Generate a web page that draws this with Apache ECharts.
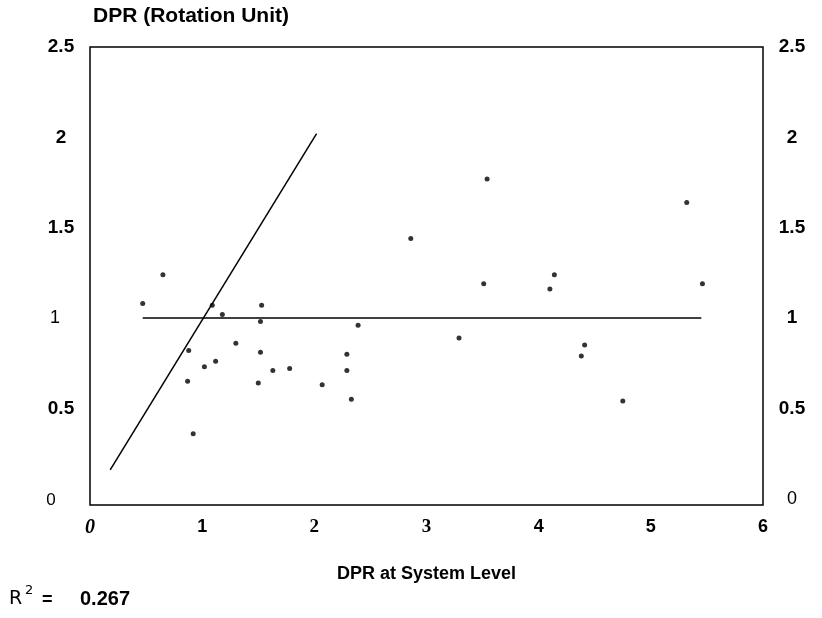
<!DOCTYPE html>
<html>
<head>
<meta charset="utf-8">
<script src="https://cdn.jsdelivr.net/npm/echarts@6/dist/echarts.min.js"></script>
<style>html,body{margin:0;padding:0;background:#fff}#c{width:822px;height:618px}</style>
</head>
<body>
<div id="c"></div>
<script>
// DPR at System Level (x) vs DPR at Rotation Unit (y)
const pointsX = [0.65, 0.47, 1.09, 1.53, 1.18, 1.52, 1.30, 0.88, 1.52, 1.12, 1.02, 0.87, 1.50, 0.92,
                 2.39, 2.29, 1.78, 1.63, 2.29, 2.07, 2.33, 3.54, 2.86, 4.14, 3.51, 4.10, 3.29, 4.41,
                 4.38, 5.32, 5.46, 4.75];
const pointsY = [1.24, 1.08, 1.07, 1.07, 1.02, 0.98, 0.86, 0.82, 0.81, 0.76, 0.73, 0.65, 0.64, 0.36,
                 0.96, 0.80, 0.72, 0.71, 0.71, 0.63, 0.55, 1.77, 1.44, 1.24, 1.19, 1.16, 0.89, 0.85,
                 0.79, 1.64, 1.19, 0.54];
const flatLineX = [0.47, 5.45];
const flatLineY = [1, 1];
const diagLineX = [0.18, 2.02];
const diagLineY = [0.16, 2.02];
const yTicks = [0, 0.5, 1, 1.5, 2, 2.5];
const xTicks = [0, 1, 2, 3, 4, 5, 6];
const xTitle = 'DPR at System Level';
const yTitle = 'DPR (Rotation Unit)';
const r2Value = '0.267';

const zip = (a, b) => a.map((v, i) => [v, b[i]]);
const FONT = '"Liberation Sans", Arial, sans-serif';

const leftFmt = v => {
  const s = String(v);
  if (s === '1') return '{r1|1}';
  if (s === '0') return '{r0|0}';
  return '{b|' + s + '}';
};
const rightFmt = v => {
  const s = String(v);
  return s === '0' ? '{r|' + s + '}' : '{b|' + s + '}';
};
const xFmt = v => {
  const s = String(v);
  if (s === '0') return '{i|' + s + '}';
  if (s === '2' || s === '3') return '{s|' + s + '}';
  return '{b|' + s + '}';
};
const richY = {
  b: { fontFamily: FONT, fontWeight: 'bold', fontSize: 19, color: '#000' },
  r: { fontFamily: FONT, fontWeight: 'normal', fontSize: 18, color: '#000' },
  r1: { fontFamily: FONT, fontWeight: 'normal', fontSize: 18, color: '#000', padding: [0, 12, 0, 0] },
  r0: { fontFamily: FONT, fontWeight: 'normal', fontSize: 17, color: '#000', padding: [4, 20, 0, 0] }
};
const richX = {
  b: { fontFamily: FONT, fontWeight: 'bold', fontSize: 18, color: '#000' },
  s: { fontFamily: '"Liberation Serif", serif', fontWeight: 'bold', fontSize: 19, color: '#000' },
  i: { fontFamily: '"Liberation Serif", serif', fontWeight: 'bold', fontStyle: 'italic', fontSize: 20, color: '#000' }
};

const chart = echarts.init(document.getElementById('c'), null, { renderer: 'canvas' });
chart.setOption({
  backgroundColor: '#fff',
  animation: false,
  grid: { left: 90, right: 59, top: 47, bottom: 113, show: true, borderColor: '#000', borderWidth: 1.5 },
  xAxis: {
    type: 'value', min: 0, max: 6, interval: 1,
    axisLine: { show: false }, axisTick: { show: false }, splitLine: { show: false },
    axisLabel: { margin: 13, formatter: xFmt, rich: richX },
    name: xTitle, nameLocation: 'middle', nameGap: 60,
    nameTextStyle: { fontFamily: FONT, fontWeight: 'bold', fontSize: 18, color: '#000' }
  },
  yAxis: [
    {
      type: 'value', min: -0.035, max: 2.5, position: 'left',
      axisLine: { show: false }, axisTick: { show: false }, splitLine: { show: false },
      axisLabel: { customValues: yTicks, margin: 29, align: 'center', formatter: leftFmt, rich: richY }
    },
    {
      type: 'value', min: -0.035, max: 2.5, position: 'right',
      axisLine: { show: false }, axisTick: { show: false }, splitLine: { show: false },
      axisLabel: { customValues: yTicks, margin: 29, align: 'center', formatter: rightFmt, rich: richY }
    }
  ],
  graphic: [
    { type: 'text', left: 93, top: 6,
      style: { text: yTitle, font: 'bold 21px ' + FONT, fill: '#000' } },
    { type: 'text', left: 9, top: 590,
      style: { text: 'R', font: 'normal 19px "DejaVu Sans", sans-serif', fill: '#000' } },
    { type: 'text', left: 25, top: 584,
      style: { text: '2', font: 'normal 13px "DejaVu Sans", sans-serif', fill: '#000' } },
    { type: 'text', left: 42, top: 591,
      style: { text: '=', font: 'bold 18px ' + FONT, fill: '#000' } },
    { type: 'text', left: 80, top: 589,
      style: { text: r2Value, font: 'bold 20px ' + FONT, fill: '#000' } }
  ],
  series: [
    {
      type: 'scatter', data: zip(pointsX, pointsY), symbol: 'circle', symbolSize: 5,
      itemStyle: { color: '#000' }, silent: true
    },
    {
      type: 'line', data: zip(flatLineX, flatLineY), symbol: 'none',
      lineStyle: { color: '#000', width: 1.5 }, silent: true
    },
    {
      type: 'line', data: zip(diagLineX, diagLineY), symbol: 'none',
      lineStyle: { color: '#000', width: 1.5 }, silent: true
    }
  ]
});
</script>
</body>
</html>
